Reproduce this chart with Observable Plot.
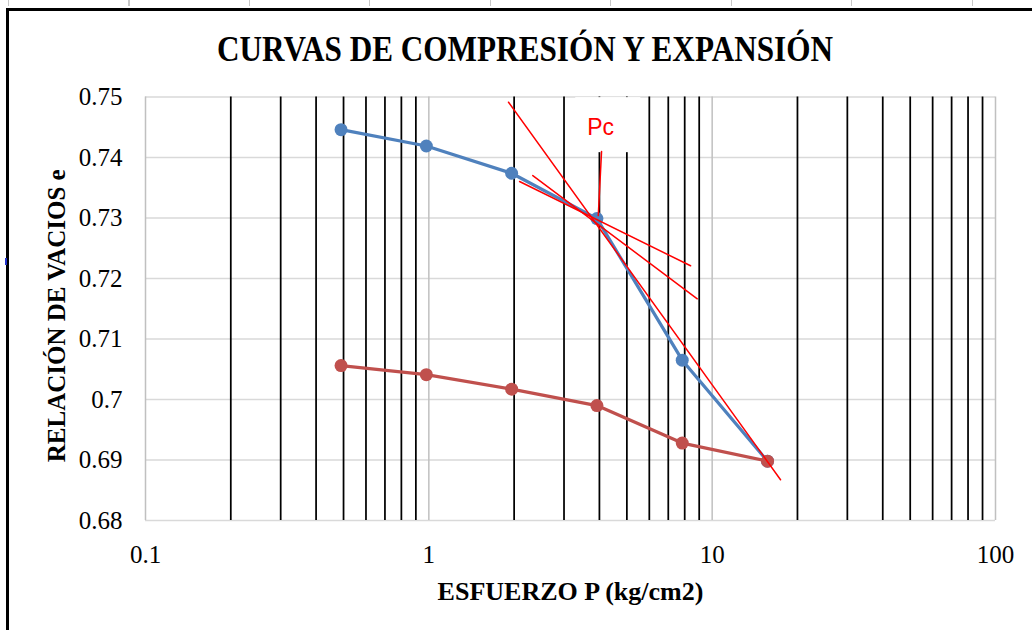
<!DOCTYPE html>
<html>
<head>
<meta charset="utf-8">
<script src="https://cdn.jsdelivr.net/npm/d3@7"></script>
<script src="https://cdn.jsdelivr.net/npm/@observablehq/plot@0.6"></script>
<style>
  html, body { margin: 0; padding: 0; background: #fff; }
  #wrap { position: relative; width: 1032px; height: 630px; overflow: hidden; background: #fff; }
  #ticks { position: absolute; left: 8px; top: 0; width: 1100px; height: 6px;
           background: repeating-linear-gradient(to right, #c8c8c8 0, #c8c8c8 1px, transparent 1px, transparent 120.5px); }
  #frame { position: absolute; left: 6px; top: 8px; width: 1100px; height: 700px; z-index: 5;
           border-left: 3px solid #000; border-top: 3px solid #000; pointer-events: none; }
  #blip { position: absolute; left: 5px; top: 258px; width: 2px; height: 7px; background: #2233cc; z-index: 6; }
  #title { position: absolute; left: 0; top: 0; }
  #chart { position: absolute; left: 0; top: 80px; }
</style>
</head>
<body>
<div id="wrap">
  <div id="ticks"></div>
  <div id="frame"></div>
  <div id="blip"></div>
  <svg id="title" width="1032" height="80"></svg>
  <div id="chart"></div>
</div>
<script>
// ---- data ----
const chartTitle = "CURVAS DE COMPRESIÓN Y EXPANSIÓN";
const xTitle = "ESFUERZO P (kg/cm2)";
const yTitle = "RELACIÓN DE VACIOS e";

const pressure     = [0.49, 0.98, 1.96, 3.92, 7.84, 15.68];
const eCompression = [0.7446, 0.7419, 0.7374, 0.7299, 0.7065, 0.6898];
const eExpansion   = [0.7056, 0.7041, 0.7017, 0.6990, 0.6928, 0.6898];

const xTicks = [0.1, 1, 10, 100];
const yTicks = [0.68, 0.69, 0.70, 0.71, 0.72, 0.73, 0.74, 0.75];
const minorX = [0.2, 0.3, 0.4, 0.5, 0.6, 0.7, 0.8, 0.9,
                2, 3, 4, 5, 6, 7, 8, 9,
                20, 30, 40, 50, 60, 70, 80, 90];

// Casagrande construction segments (pairs of end points)
const constrSeg = ["A", "A", "B", "B", "C", "C", "D", "D"];
const constrX   = [1.911, 17.43, 2.09, 8.39, 2.328, 8.86, 4.07, 3.963];
const constrE   = [0.74914, 0.68673, 0.73603, 0.72210, 0.73702, 0.71664, 0.74099, 0.73041];

const pcLabel = "Pc";
const pcX = 4.04, pcE = 0.7450;
const pcBoxX = [3.3, 5.6], pcBoxE = [0.7408, 0.7499];

// ---- tables ----
const comp = pressure.map((p, i) => ({p, e: eCompression[i]}));
const expn = pressure.map((p, i) => ({p, e: eExpansion[i]}));
const constr = constrX.map((p, i) => ({p, e: constrE[i], s: constrSeg[i]}));
const pcBox = [{x1: pcBoxX[0], x2: pcBoxX[1], y1: pcBoxE[0], y2: pcBoxE[1]}];
const pc = [{p: pcX, e: pcE, t: pcLabel}];

// ---- title ----
const ts = d3.select("#title");
ts.append("text")
  .attr("x", 525).attr("y", 61)
  .attr("text-anchor", "middle")
  .attr("font-family", "Liberation Serif")
  .attr("font-weight", "bold")
  .attr("font-size", 36)
  .attr("textLength", 616)
  .attr("lengthAdjust", "spacingAndGlyphs")
  .text(chartTitle);

// ---- chart ----
const fmt = d => String(+d.toFixed(2));
const plot = Plot.plot({
  width: 1032,
  height: 550,
  marginLeft: 145,
  marginRight: 37,
  marginTop: 16.5,
  marginBottom: 110,
  style: {fontFamily: "Liberation Serif", fontSize: "25px", color: "#000", background: "transparent", overflow: "visible"},
  x: {type: "log", domain: [0.1, 100], ticks: xTicks, tickFormat: d => String(d), tickSize: 0, tickPadding: 25, label: null},
  y: {domain: [0.68, 0.75], ticks: yTicks, tickFormat: fmt, tickSize: 0, tickPadding: 23, label: null},
  marks: [
    Plot.ruleY(yTicks, {stroke: "#d9d9d9", strokeWidth: 1.5}),
    Plot.ruleX(xTicks, {stroke: "#c0c0c0", strokeWidth: 1.5}),
    Plot.ruleX(minorX, {stroke: "#000", strokeWidth: 1.75}),
    Plot.rect(pcBox, {x1: "x1", x2: "x2", y1: "y1", y2: "y2", fill: "#fff"}),
    Plot.line(comp, {x: "p", y: "e", stroke: "#4f81bd", strokeWidth: 3.25}),
    Plot.dot(comp, {x: "p", y: "e", r: 6.5, fill: "#4f81bd"}),
    Plot.line(expn, {x: "p", y: "e", stroke: "#c0504d", strokeWidth: 3.25}),
    Plot.dot(expn, {x: "p", y: "e", r: 6.5, fill: "#c0504d"}),
    Plot.line(constr, {x: "p", y: "e", z: "s", stroke: "#ff0000", strokeWidth: 1.5}),
    Plot.text(pc, {x: "p", y: "e", text: "t", fill: "#ff0000", fontFamily: "Liberation Sans", fontSize: 23}),
    Plot.text([xTitle], {frameAnchor: "bottom", dy: 79, fontWeight: "bold", fontSize: 26}),
    Plot.text([yTitle], {frameAnchor: "left", textAnchor: "middle", dx: -89, dy: 7, rotate: -90, fontWeight: "bold", fontSize: 25})
  ]
});
document.getElementById("chart").appendChild(plot);
</script>
</body>
</html>
